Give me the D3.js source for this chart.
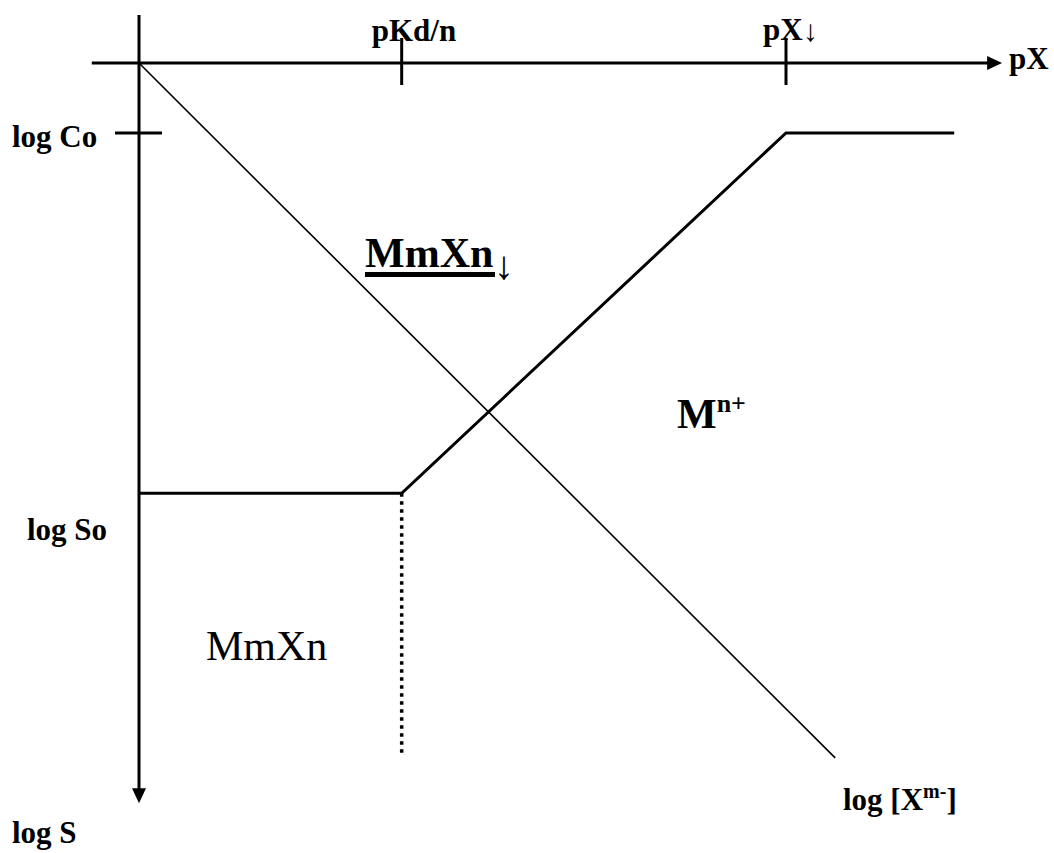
<!DOCTYPE html>
<html><head><meta charset="utf-8">
<script src="https://cdn.jsdelivr.net/npm/d3@7"></script>
<style>
  body { margin: 0; background: #fff; }
  text { font-family: "Liberation Serif", "Times New Roman", serif; fill: #000; }
</style>
</head><body>
<svg id="chart" width="1054" height="853"></svg>
<script>
// Marked pX values on the horizontal axis
const tickLabels = ["pKd/n", "pX"];
const tickValues = [4.06, 10];

// Marked log S levels on the vertical axis
const levelLabels = ["log Co", "log So"];
const levelValues = [1.08, 6.65];

// Solubility curve (pX, log S): flat at log So, rising to log Co, flat again
const solubilityPx = [0, 4.06, 10, 12.6];
const solubilityLogS = [6.65, 6.65, 1.08, 1.08];

// log [X^m-] line
const anionPx = [0, 10.76];
const anionLogS = [0, 10.74];

// Boundary below the break point
const boundaryPx = [4.06, 4.06];
const boundaryLogS = [6.65, 10.66];

const svg = d3.select("#chart");
const unit = 64.7;
const x = d3.scaleLinear().domain([0, 14]).range([139, 139 + 14 * unit]);
const y = d3.scaleLinear().domain([0, 12]).range([63, 63 + 12 * unit]);

const line = d3.line().x(d => x(d[0])).y(d => y(d[1]));
const pts = (a, b) => a.map((v, i) => [v, b[i]]);

const BOLD = 31;

// Horizontal (pX) axis with arrowhead
const xAxisEnd = 13.34, yAxisEnd = 11.44;
svg.append("line")
  .attr("x1", x(-0.73)).attr("x2", x(xAxisEnd) - 12)
  .attr("y1", y(0)).attr("y2", y(0))
  .attr("stroke", "#000").attr("stroke-width", 3);
svg.append("path")
  .attr("d", `M${x(xAxisEnd)},${y(0)} L${x(xAxisEnd) - 15},${y(0) - 7} L${x(xAxisEnd) - 15},${y(0) + 7} Z`)
  .attr("fill", "#000");

// Vertical (log S) axis with arrowhead
svg.append("line")
  .attr("x1", x(0)).attr("x2", x(0))
  .attr("y1", y(-0.74)).attr("y2", y(yAxisEnd) - 12)
  .attr("stroke", "#000").attr("stroke-width", 3);
svg.append("path")
  .attr("d", `M${x(0)},${y(yAxisEnd)} L${x(0) - 7},${y(yAxisEnd) - 15} L${x(0) + 7},${y(yAxisEnd) - 15} Z`)
  .attr("fill", "#000");

// Ticks on the pX axis
tickValues.forEach(v => {
  svg.append("line")
    .attr("x1", x(v)).attr("x2", x(v))
    .attr("y1", y(0) - 25).attr("y2", y(0) + 22)
    .attr("stroke", "#000").attr("stroke-width", 3);
});
svg.append("text").attr("x", x(tickValues[0]) - 30).attr("y", 41)
  .attr("font-size", BOLD).attr("font-weight", "bold").text(tickLabels[0]);
svg.append("text").attr("x", x(tickValues[1]) - 23).attr("y", 40)
  .attr("font-size", BOLD).attr("font-weight", "bold").text(tickLabels[1]);
svg.append("text").attr("x", x(tickValues[1]) + 17).attr("y", 41)
  .attr("font-size", 30).text("\u2193");

// log Co tick and level labels
svg.append("line")
  .attr("x1", x(0) - 24).attr("x2", x(0) + 23)
  .attr("y1", y(levelValues[0])).attr("y2", y(levelValues[0]))
  .attr("stroke", "#000").attr("stroke-width", 3);
svg.append("text").attr("x", 12).attr("y", 147)
  .attr("font-size", BOLD).attr("font-weight", "bold").text(levelLabels[0]);
svg.append("text").attr("x", 27).attr("y", 540)
  .attr("font-size", BOLD).attr("font-weight", "bold").text(levelLabels[1]);

// Axis titles
svg.append("text").attr("x", 1009).attr("y", 69)
  .attr("font-size", BOLD).attr("font-weight", "bold").text("pX");
svg.append("text").attr("x", 12).attr("y", 843)
  .attr("font-size", BOLD).attr("font-weight", "bold").text("log S");

// log [X^m-] line
svg.append("path").attr("d", line(pts(anionPx, anionLogS)))
  .attr("fill", "none").attr("stroke", "#000").attr("stroke-width", 1.6);
const ax = svg.append("text").attr("x", 843).attr("y", 810)
  .attr("font-size", BOLD).attr("font-weight", "bold");
ax.append("tspan").text("log [X");
ax.append("tspan").attr("font-size", 20).attr("dy", -12).text("m-");
ax.append("tspan").attr("dy", 12).text("]");

// Solubility curve
svg.append("path").attr("d", line(pts(solubilityPx, solubilityLogS)))
  .attr("fill", "none").attr("stroke", "#000").attr("stroke-width", 3)
  .attr("stroke-linejoin", "miter");

// Dotted boundary
svg.append("path").attr("d", line(pts(boundaryPx, boundaryLogS)))
  .attr("fill", "none").attr("stroke", "#000").attr("stroke-width", 3.5)
  .attr("stroke-dasharray", "3.5,4.5");

// Region labels
svg.append("text").attr("x", 365).attr("y", 267)
  .attr("font-size", 42).attr("font-weight", "bold").text("MmXn");
svg.append("rect").attr("x", 365).attr("y", 272).attr("width", 130).attr("height", 5).attr("fill", "#000");
svg.append("text").attr("x", 494).attr("y", 279)
  .attr("font-size", 40).text("\u2193");

const mn = svg.append("text").attr("x", 677).attr("y", 428)
  .attr("font-size", 42).attr("font-weight", "bold");
mn.append("tspan").text("M");
mn.append("tspan").attr("font-size", 26).attr("dy", -16).text("n+");

svg.append("text").attr("x", 206).attr("y", 660)
  .attr("font-size", 42).text("MmXn");
</script>
</body></html>
